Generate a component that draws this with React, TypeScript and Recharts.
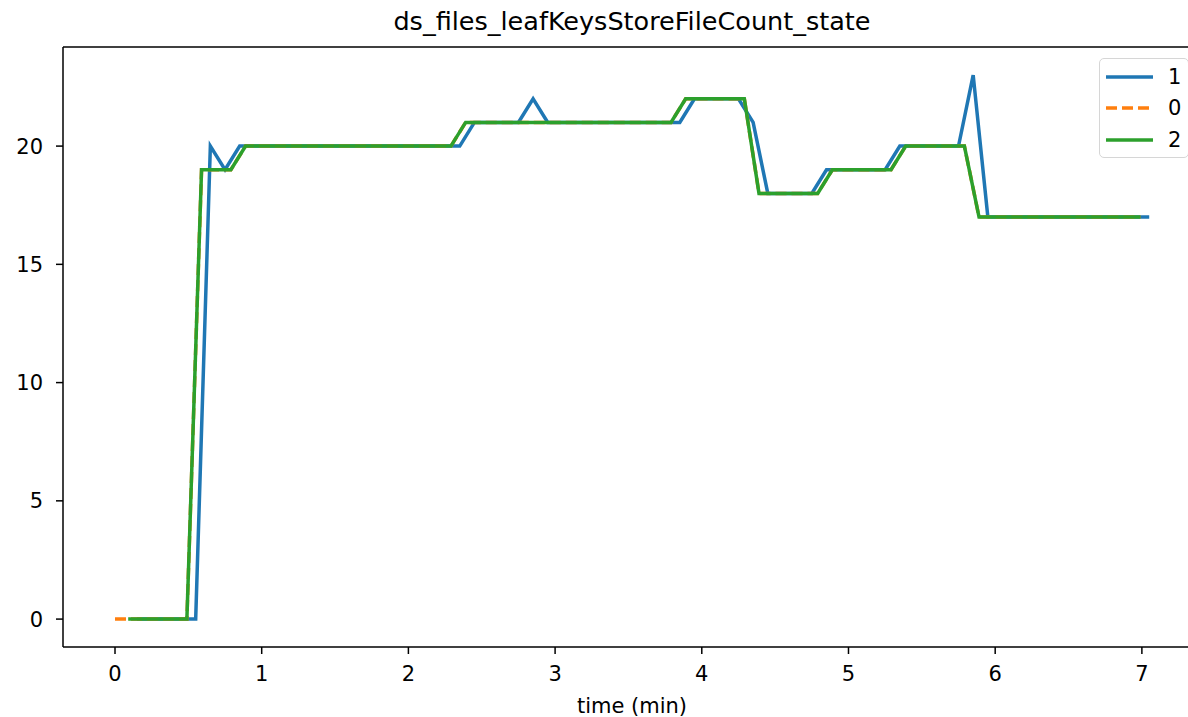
import { LineChart, Line, XAxis, YAxis, ReferenceLine } from 'recharts';

const FONT = '"DejaVu Sans", sans-serif';
const STEP = 0.1;

// series "1" sampled from 0.15 min
const startOne = 0.15;
const valuesOne = [
  0, 0, 0, 0, 0, 20, 19, 20,
  20, 20, 20, 20, 20, 20, 20, 20, 20, 20, 20, 20, 20, 20, 20,
  21, 21, 21, 21, 22,
  21, 21, 21, 21, 21, 21, 21, 21, 21, 21,
  22, 22, 22, 22, 21,
  18, 18, 18, 18,
  19, 19, 19, 19, 19,
  20, 20, 20, 20, 20, 23,
  17, 17, 17, 17, 17, 17, 17, 17, 17, 17, 17, 17,
];

// series "0": first sample at 0 min, then same grid as series "2"
const firstZero = { t: 0, v: 0 };
const startZero = 0.09;
const valuesZero = [
  0, 0, 0, 0, 0,
  19, 19, 19,
  20, 20, 20, 20, 20, 20, 20, 20, 20, 20, 20, 20, 20, 20, 20,
  21, 21, 21, 21, 21, 21, 21, 21, 21, 21, 21, 21, 21, 21, 21,
  22, 22, 22, 22, 22,
  18, 18, 18, 18, 18,
  19, 19, 19, 19, 19,
  20, 20, 20, 20, 20,
  17, 17, 17, 17, 17, 17, 17, 17, 17, 17, 17, 17,
];

// series "2" sampled from 0.09 min
const startTwo = 0.09;
const valuesTwo = [
  0, 0, 0, 0, 0,
  19, 19, 19,
  20, 20, 20, 20, 20, 20, 20, 20, 20, 20, 20, 20, 20, 20, 20,
  21, 21, 21, 21, 21, 21, 21, 21, 21, 21, 21, 21, 21, 21, 21,
  22, 22, 22, 22, 22,
  18, 18, 18, 18, 18,
  19, 19, 19, 19, 19,
  20, 20, 20, 20, 20,
  17, 17, 17, 17, 17, 17, 17, 17, 17, 17, 17, 17,
];

const xTicks = [0, 1, 2, 3, 4, 5, 6, 7];
const yTicks = [0, 5, 10, 15, 20];
const xDomain: [number, number] = [-0.3545, 7.403];
const yDomain: [number, number] = [-1.18, 24.19];

const toPoints = (start: number, values: number[]) =>
  values.map((v, i) => ({ t: Math.round((start + i * STEP) * 100) / 100, v }));

const dataOne = toPoints(startOne, valuesOne);
const dataZero = [firstZero, ...toPoints(startZero, valuesZero)];
const dataTwo = toPoints(startTwo, valuesTwo);

const series = [
  { name: '1', color: '#1f77b4', dash: undefined as string | undefined },
  { name: '0', color: '#ff7f0e', dash: '11 5' },
  { name: '2', color: '#2ca02c', dash: undefined as string | undefined },
];

function LegendBox() {
  return (
    <div
      style={{
        position: 'absolute', top: 58, left: 1099,
        width: 90, height: 100, boxSizing: 'border-box',
        border: '1.5px solid #d6d6d6', borderRadius: 5, background: 'rgba(255,255,255,0.8)',
        fontFamily: FONT, fontSize: 21, color: '#000', paddingTop: 2,
      }}
    >
      {series.map((s) => (
        <div key={s.name} style={{ display: 'flex', alignItems: 'center', height: 31.5 }}>
          <svg width={63} height={10} style={{ marginLeft: 5 }}>
            <line x1={1} y1={5} x2={48} y2={5} stroke={s.color} strokeWidth={3.5}
              strokeDasharray={s.dash} />
          </svg>
          <span>{s.name}</span>
        </div>
      ))}
    </div>
  );
}

export default function App() {
  return (
    <div style={{ position: 'absolute', left: 0, top: 0, width: 1188, height: 717, background: '#fff', overflow: 'hidden' }}>
      <div
        style={{
          position: 'absolute', top: 6, left: 63, width: 1138, textAlign: 'center',
          fontFamily: FONT, fontSize: 25.5, color: '#000',
        }}
      >
        ds_files_leafKeysStoreFileCount_state
      </div>
      <LineChart width={1201} height={717} margin={{ top: 47, right: 0, bottom: 0, left: 0 }}>
        <XAxis
          type="number"
          dataKey="t"
          domain={xDomain}
          ticks={xTicks}
          allowDataOverflow
          height={70}
          stroke="#000"
          tick={{ fontSize: 21, fill: '#000', fontFamily: FONT }}
          tickSize={7}
          tickMargin={12}
          axisLine={{ stroke: '#000', strokeWidth: 1.5 }}
          tickLine={{ stroke: '#000', strokeWidth: 1.5 }}
          label={{ value: 'time (min)', position: 'insideBottom', offset: 4, fill: '#000', fontSize: 21, fontFamily: FONT }}
        />
        <YAxis
          type="number"
          domain={yDomain}
          ticks={yTicks}
          allowDataOverflow
          width={63}
          tick={{ fontSize: 21, fill: '#000', fontFamily: FONT }}
          tickSize={7}
          tickMargin={13}
          axisLine={{ stroke: '#000', strokeWidth: 1.5 }}
          tickLine={{ stroke: '#000', strokeWidth: 1.5 }}
        />
        <ReferenceLine y={yDomain[1]} stroke="#000" strokeWidth={1.5} ifOverflow="visible" />
        <Line data={dataOne} dataKey="v" name="1" stroke="#1f77b4" strokeWidth={3.5}
          dot={false} activeDot={false} isAnimationActive={false} />
        <Line data={dataZero} dataKey="v" name="0" stroke="#ff7f0e" strokeWidth={3.5}
          strokeDasharray="11 5" dot={false} activeDot={false} isAnimationActive={false} />
        <Line data={dataTwo} dataKey="v" name="2" stroke="#2ca02c" strokeWidth={3.5}
          dot={false} activeDot={false} isAnimationActive={false} />
      </LineChart>
      <LegendBox />
    </div>
  );
}
